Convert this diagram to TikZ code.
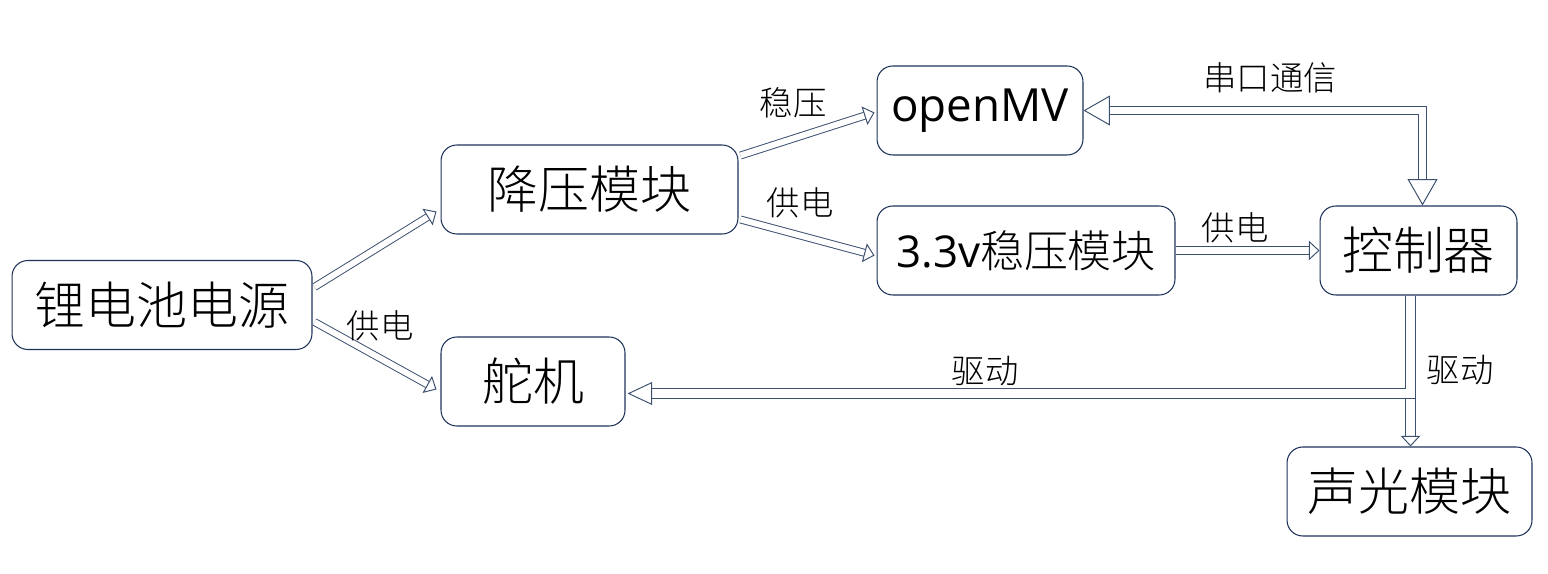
\documentclass[tikz,border=0pt]{standalone}
\usepackage{fontspec}
\setmainfont{Noto Sans CJK SC}[UprightFont={* Light}]
\newfontfamily\latinfont{Open Sans}
\usetikzlibrary{arrows.meta, calc, positioning}
\definecolor{boxc}{RGB}{31,50,90}
\definecolor{linec}{RGB}{60,80,112}
\tikzset{
    box/.style={draw=boxc, line width=0.6pt, rounded corners=9pt, minimum height=1.78cm, inner sep=0pt, font=\fontsize{29}{30}\selectfont},
    lbl/.style={font=\fontsize{19}{20}\selectfont},
    pipe/.style={draw=linec, line width=0.55pt, double=white, double distance=#1},
    pipe/.default=3.4pt,
    smallhead/.style={-{Triangle[fill=white, length=6pt, width=11pt, line width=0.55pt]}},
    bighead/.style={-{Triangle[fill=white, length=14pt, width=13pt, line width=0.55pt]}},
}
\begin{document}
\begin{tikzpicture}[x=0.02cm, y=-0.02cm]
\useasboundingbox (0,0) rectangle (1548,574);
% modules
\node[box, minimum width=6cm] (li) at (162,305) {锂电池电源};
\node[box, minimum width=5.94cm] (jy) at (589.5,189.5) {降压模块};
\node[box, minimum width=3.68cm] (dj) at (533,381.5) {舵机};
\node[box, minimum width=4.12cm, font=\fontsize{26}{28}\latinfont] (mv) at (980,110.5) {openMV};
\node[box, minimum width=5.96cm, font=\fontsize{25}{27}\selectfont] (wy) at (1026,250.5) {{\latinfont 3.3v}稳压模块};
\node[box, minimum width=3.94cm] (kz) at (1418.5,250.5) {控制器};
\node[box, minimum width=4.9cm] (sg) at (1409.5,491.5) {声光模块};

% power lines
\draw[pipe, smallhead] ($(li.east)+(2,-18)$) -- ($(jy.west)+(-4,22)$);
\draw[pipe, smallhead] ($(li.east)+(2,17)$) -- ($(dj.west)+(-4,8)$);
\draw[pipe, smallhead] ($(jy.east)+(2,-34)$) -- ($(mv.west)+(-2,2)$);
\draw[pipe, smallhead] ($(jy.east)+(2,30)$) -- ($(wy.west)+(-2,5)$);
\draw[pipe=4pt, smallhead] (wy.east) -- (kz.west);

% serial link
\draw[pipe=4.2pt, {Triangle[fill=white, length=15pt, width=17pt, line width=0.55pt]}-{Triangle[fill=white, length=15pt, width=17pt, line width=0.55pt]}]
    (mv.east) -| ($(kz.north)+(4,0)$);

% drive lines
\coordinate (kzout) at ($(kz.south)+(-8,0)$);
\coordinate (djin) at ($(dj.east)+(2,12)$);
\coordinate (fork) at (kzout |- djin);
\draw[pipe=4.8pt, smallhead] (fork) -- (fork |- sg.north);
\draw[pipe=4.8pt, bighead] (kzout) |- (djin);

% labels
\node[lbl] (l1) at (380,326) {供电};
\node[lbl] (l2) at (793,103) {稳压};
\node[lbl] (l3) at (800,203) {供电};
\node[lbl] (l4) at (1235,228) {供电};
\node[lbl] (l5) at (1270,78) {串口通信};
\node[lbl] (l6) at (985,371) {驱动};
\node[lbl] (l7) at (1460,370) {驱动};
\end{tikzpicture}
\end{document}
